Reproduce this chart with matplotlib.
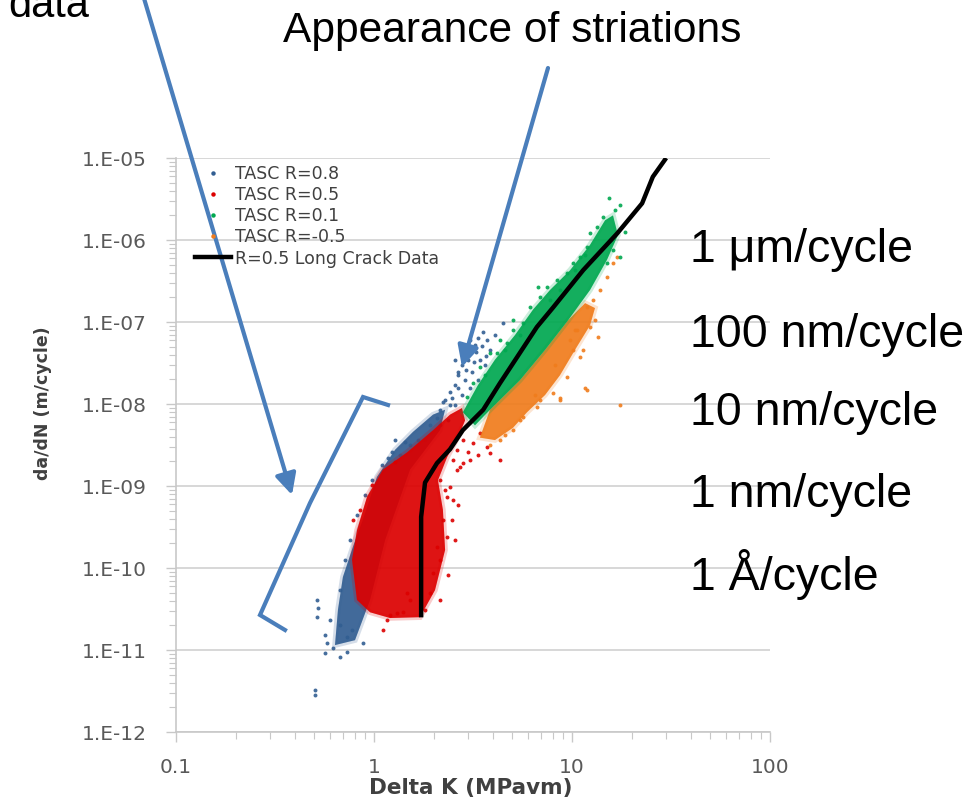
import matplotlib

matplotlib.use("Agg")

import matplotlib.pyplot as plt
import numpy as np
from matplotlib.lines import Line2D
from matplotlib.patches import FancyArrowPatch
from matplotlib.ticker import FixedLocator, LogLocator, NullFormatter

# ---- data (Delta K in MPa*sqrt(m), da/dN in m/cycle) ----
series_names = ["TASC R=0.8", "TASC R=0.5", "TASC R=0.1", "TASC R=-0.5"]
series_colors = ["#325e92", "#dc0000", "#00a850", "#f07c1c"]

# dense cores of each cloud, outline, log10 units
r08_core_logdk = [-0.197, -0.182, -0.157, -0.106, -0.056, 0.015, 0.106, 0.197, 0.298, 0.359, 0.333,
                  0.182, 0.056, -0.020, -0.096]
r08_core_lograte = [-10.94, -10.51, -10.11, -9.74, -9.41, -8.89, -8.56, -8.34, -8.13, -8.07, -8.32,
                    -8.80, -9.66, -10.39, -10.88]
r05_core_logdk = [-0.086, -0.111, -0.086, -0.035, 0.045, 0.167, 0.298, 0.384, 0.444, 0.460, 0.434,
                  0.369, 0.323, 0.348, 0.359, 0.308, 0.232, 0.081, -0.020]
r05_core_lograte = [-10.39, -9.90, -9.54, -9.13, -8.80, -8.59, -8.32, -8.13, -8.05, -8.20, -8.35,
                    -8.65, -8.93, -9.29, -9.78, -10.27, -10.60, -10.61, -10.54]
r01_core_logdk = [0.449, 0.525, 0.611, 0.712, 0.803, 0.889, 0.990, 1.091, 1.167, 1.207, 1.232,
                  1.177, 1.091, 0.980, 0.864, 0.737, 0.586, 0.510]
r01_core_lograte = [-8.10, -7.77, -7.46, -7.16, -6.85, -6.61, -6.37, -6.06, -5.76, -5.70, -5.94,
                    -6.24, -6.61, -6.98, -7.34, -7.71, -8.07, -8.26]
rm05_core_logdk = [0.535, 0.586, 0.737, 0.864, 0.980, 1.066, 1.116, 1.091, 1.015, 0.939, 0.864,
                   0.773, 0.702, 0.611]
rm05_core_lograte = [-8.41, -8.07, -7.71, -7.34, -6.98, -6.77, -6.83, -7.04, -7.34, -7.65, -7.89,
                     -8.10, -8.29, -8.44]

# scattered points around the cores, log10 units
r08_pts_logdk = [0.333, 0.359, 0.384, 0.409, 0.424, 0.444, 0.475, 0.485, 0.510, 0.525, 0.551, 0.460,
                 0.495, 0.535, 0.409, 0.374, 0.333, 0.283, 0.258, 0.222, 0.182, 0.131, 0.106, 0.071,
                 0.444, 0.485, 0.525, 0.561, 0.586, 0.571, 0.611, 0.652, 0.409,
                 0.318, 0.394, 0.424, 0.465, 0.505, 0.515, 0.545, 0.455, 0.424, 0.384, 0.348, 0.485,
                 0.444, 0.566,
                 -0.172, -0.146, -0.121, -0.086, -0.045, -0.010, 0.040, 0.091, 0.157,
                 -0.288, -0.283, -0.288, -0.247, -0.237, -0.247, -0.207, -0.172, -0.136, -0.136,
                 -0.056, -0.298, -0.298, -0.172, -0.111, -0.222]
r08_pts_lograte = [-8.07, -7.95, -7.85, -7.77, -7.65, -7.52, -7.46, -7.34, -7.28, -7.20, -7.12, -7.71,
                   -7.61, -7.46, -8.01, -8.20, -8.26, -8.26, -8.44, -8.44, -8.50, -8.62, -8.44, -8.66,
                   -7.89, -7.80, -7.71, -7.52, -7.34, -7.22, -7.16, -7.01, -7.46,
                   -8.17, -7.93, -7.80, -7.59, -7.49, -7.37, -7.29, -7.37, -7.61, -8.01, -7.98, -7.22,
                   -7.28, -7.41,
                   -10.27, -9.90, -9.66, -9.35, -9.11, -8.93, -8.74, -8.59, -8.46,
                   -10.39, -10.49, -10.60, -10.82, -10.91, -11.04, -10.98, -11.09, -11.02, -10.84,
                   -10.91, -11.49, -11.55, -10.70, -10.76, -10.63]
r05_pts_logdk = [0.333, 0.369, 0.399, 0.348, 0.318, 0.298, 0.283, 0.384, 0.419, 0.449, 0.485, 0.369,
                 0.333, 0.066, 0.081, 0.116, 0.146, 0.045, 0.167, 0.182, 0.419, 0.449, 0.500, 0.535,
                 0.571, 0.399, 0.434, 0.586, 0.636, -0.106, -0.071, -0.010, 0.106,
                 0.394, 0.409, 0.374, 0.333, 0.258, 0.475, 0.525, 0.359, 0.424]
r05_pts_lograte = [-8.93, -9.13, -9.17, -9.41, -9.74, -10.06, -10.30, -9.01, -8.80, -8.72, -8.68, -9.62,
                   -9.90, -10.63, -10.57, -10.55, -10.54, -10.76, -10.30, -10.39, -8.56, -8.44, -8.48,
                   -8.35, -8.52, -8.68, -8.77, -8.60, -8.68, -9.41, -9.29, -8.99, -8.71,
                   -9.41, -9.66, -10.09, -10.39, -10.51, -8.59, -8.62, -9.05, -9.23]
r01_pts_logdk = [1.187, 1.242, 1.217, 1.157, 1.126, 1.091, 1.076, 1.040, 1.005, 0.975, 0.924, 0.874,
                 0.838, 0.788, 0.753, 0.702, 0.672, 0.621, 0.828, 1.207, 1.177, 1.242, 0.636, 0.586,
                 0.535, 0.500, 0.470, 0.702, 0.939, 1.015, 1.066, 0.889, 0.737, 0.662, 0.561, 1.268]
r01_pts_lograte = [-5.49, -5.57, -5.63, -5.72, -5.84, -5.91, -6.09, -6.21, -6.28, -6.40, -6.49, -6.57,
                   -6.70, -6.82, -7.01, -7.10, -7.26, -7.38, -6.57, -6.12, -6.28, -6.21, -7.22, -7.38,
                   -7.55, -7.74, -7.91, -6.98, -6.61, -6.37, -6.18, -6.73, -7.16, -7.34, -7.65, -5.90]
rm05_pts_logdk = [0.939, 0.823, 1.025, 1.005, 0.975, 0.904, 0.838, 0.753, 0.702, 0.636, 1.076, 1.106,
                  1.141, 1.177, 1.207, 1.227, 1.091, 1.056, 1.040, 1.076, 1.131, 0.939, 1.066, 1.242,
                  0.990, 0.914, 0.813, 0.737, 0.662, 0.586, 1.116, 1.015]
rm05_pts_lograte = [-7.95, -8.04, -7.10, -7.34, -7.67, -7.87, -7.95, -8.16, -8.32, -8.44, -6.82, -6.73,
                    -6.61, -6.45, -6.28, -6.21, -7.06, -7.34, -7.43, -7.83, -7.18, -7.93, -7.80, -8.01,
                    -7.22, -7.52, -7.89, -8.20, -8.38, -8.50, -6.98, -7.10]

# R=0.5 long crack curve
crack_dk = [1.73, 1.73, 1.81, 2.08, 2.42, 2.81, 3.56, 4.33, 5.27, 6.65, 8.02, 11.4, 16.9, 22.6, 25.6, 29.9]
crack_rate = [2.5e-11, 4.2e-10, 1.1e-9, 1.9e-9, 2.8e-9, 4.8e-9, 8.5e-9, 1.8e-8, 3.7e-8, 8.7e-8,
              1.5e-7, 4.3e-7, 1.2e-6, 2.8e-6, 5.9e-6, 1.0e-5]

x_ticks = [0.1, 1, 10, 100]
x_tick_labels = ["0.1", "1", "10", "100"]
y_ticks = [1e-12, 1e-11, 1e-10, 1e-9, 1e-8, 1e-7, 1e-6, 1e-5]
y_tick_labels = ["1.E-12", "1.E-11", "1.E-10", "1.E-09", "1.E-08", "1.E-07", "1.E-06", "1.E-05"]

rate_labels = ["1 \u03bcm/cycle", "100 nm/cycle", "10 nm/cycle", "1 nm/cycle", "1 \u00c5/cycle"]

W, H = 973, 807


def fx(px):
    return px / W


def fy(py):
    return 1 - py / H


fig = plt.figure(figsize=(W / 100, H / 100), dpi=100)
ax = fig.add_axes([fx(176), fy(732), 594 / W, 574 / H])
ax.set_xscale("log")
ax.set_yscale("log")

clouds = [
    (r08_core_logdk, r08_core_lograte, r08_pts_logdk, r08_pts_lograte, 2),
    (r05_core_logdk, r05_core_lograte, r05_pts_logdk, r05_pts_lograte, 3),
    (r01_core_logdk, r01_core_lograte, r01_pts_logdk, r01_pts_lograte, 5),
    (rm05_core_logdk, rm05_core_lograte, rm05_pts_logdk, rm05_pts_lograte, 4),
]
for (cx, cy, px_, py_, z), color in zip(clouds, series_colors):
    xs, ys = 10 ** np.array(cx), 10 ** np.array(cy)
    # faint fringe, then the dense core
    ax.fill(xs, ys, facecolor=color, edgecolor=color, lw=4, alpha=0.2, zorder=z)
    ax.fill(xs, ys, color=color, alpha=0.9, lw=0, zorder=z)
    ax.scatter(10 ** np.array(px_), 10 ** np.array(py_), s=8, color=color, lw=0, alpha=0.9, zorder=z)

ax.plot(crack_dk, crack_rate, color="black", lw=3.2, solid_capstyle="butt", zorder=6)

ax.set_xlim(0.1, 100)
ax.set_ylim(1e-12, 1e-5)
ax.xaxis.set_major_locator(FixedLocator(x_ticks))
ax.set_xticklabels(x_tick_labels)
ax.yaxis.set_major_locator(FixedLocator(y_ticks))
ax.set_yticklabels(y_tick_labels)
ax.xaxis.set_minor_locator(LogLocator(base=10, subs=np.arange(2, 10)))
ax.yaxis.set_minor_locator(LogLocator(base=10, subs=np.arange(2, 10), numticks=20))
ax.xaxis.set_minor_formatter(NullFormatter())
ax.yaxis.set_minor_formatter(NullFormatter())
ax.tick_params(which="both", direction="out", color="#c8c8c8", labelcolor="#595959", labelsize=14.5)
ax.tick_params(which="major", length=7, width=1)
ax.tick_params(which="minor", length=5, width=0.8)
ax.tick_params(axis="y", pad=14)
ax.tick_params(axis="x", pad=12)

ax.yaxis.grid(True, which="major", color="#d4d4d4", lw=1.3)
ax.set_axisbelow(True)
for side in ["top", "right"]:
    ax.spines[side].set_visible(False)
for side in ["left", "bottom"]:
    ax.spines[side].set_color("#c8c8c8")
    ax.spines[side].set_linewidth(1.2)

ax.set_xlabel("Delta K (MPavm)", fontsize=15.5, fontweight="bold", color="#404040", va="center")
ax.xaxis.set_label_coords((471 - 176) / 594, -(788 - 732) / 574)
ax.set_ylabel("da/dN (m/cycle)", fontsize=12.5, fontweight="bold", color="#404040", va="center")
ax.yaxis.set_label_coords((43 - 176) / 594, (732 - 403) / 574)

handles = [Line2D([], [], ls="", marker="o", ms=3.2, mew=0, color=c) for c in series_colors]
handles.append(Line2D([], [], color="black", lw=3.2))
labels = series_names + ["R=0.5 Long Crack Data"]
fig.legend(handles, labels, loc="upper left", bbox_to_anchor=(fx(195), fy(165)),
           bbox_transform=fig.transFigure, frameon=False, fontsize=12.5, labelcolor="#404040",
           borderpad=0, borderaxespad=0, handlelength=2.1, handletextpad=0.2, labelspacing=0.18)

# annotations on top of the chart (the word "data" is cut by the top edge, as in the source slide)
sans = "Liberation Sans"
fig.text(fx(8), fy(17), "data", fontsize=30, family=sans, va="baseline")
fig.text(fx(283), fy(42), "Appearance of striations", fontsize=30.6, family=sans, va="baseline")
for lab, base in zip(rate_labels, [262, 347, 425, 507, 590]):
    fig.text(fx(690), fy(base), lab, fontsize=33.5, family=sans, va="baseline")

blue = "#4a7ebb"
bracket = Line2D([fx(388), fx(363), fx(310), fx(260), fx(285)],
                 [fy(405), fy(397), fy(503), fy(615), fy(630)],
                 transform=fig.transFigure, color=blue, lw=3, solid_joinstyle="miter")
fig.add_artist(bracket)
for start, end in [((143, -5), (292, 495)), ((548, 68), (462, 367))]:
    arr = FancyArrowPatch((fx(start[0]), fy(start[1])), (fx(end[0]), fy(end[1])),
                          transform=fig.transFigure, arrowstyle="-|>,head_length=0.9,head_width=0.45",
                          mutation_scale=14, color=blue, lw=3, shrinkA=0, shrinkB=0)
    fig.add_artist(arr)

fig.savefig("out.png", dpi=100)
